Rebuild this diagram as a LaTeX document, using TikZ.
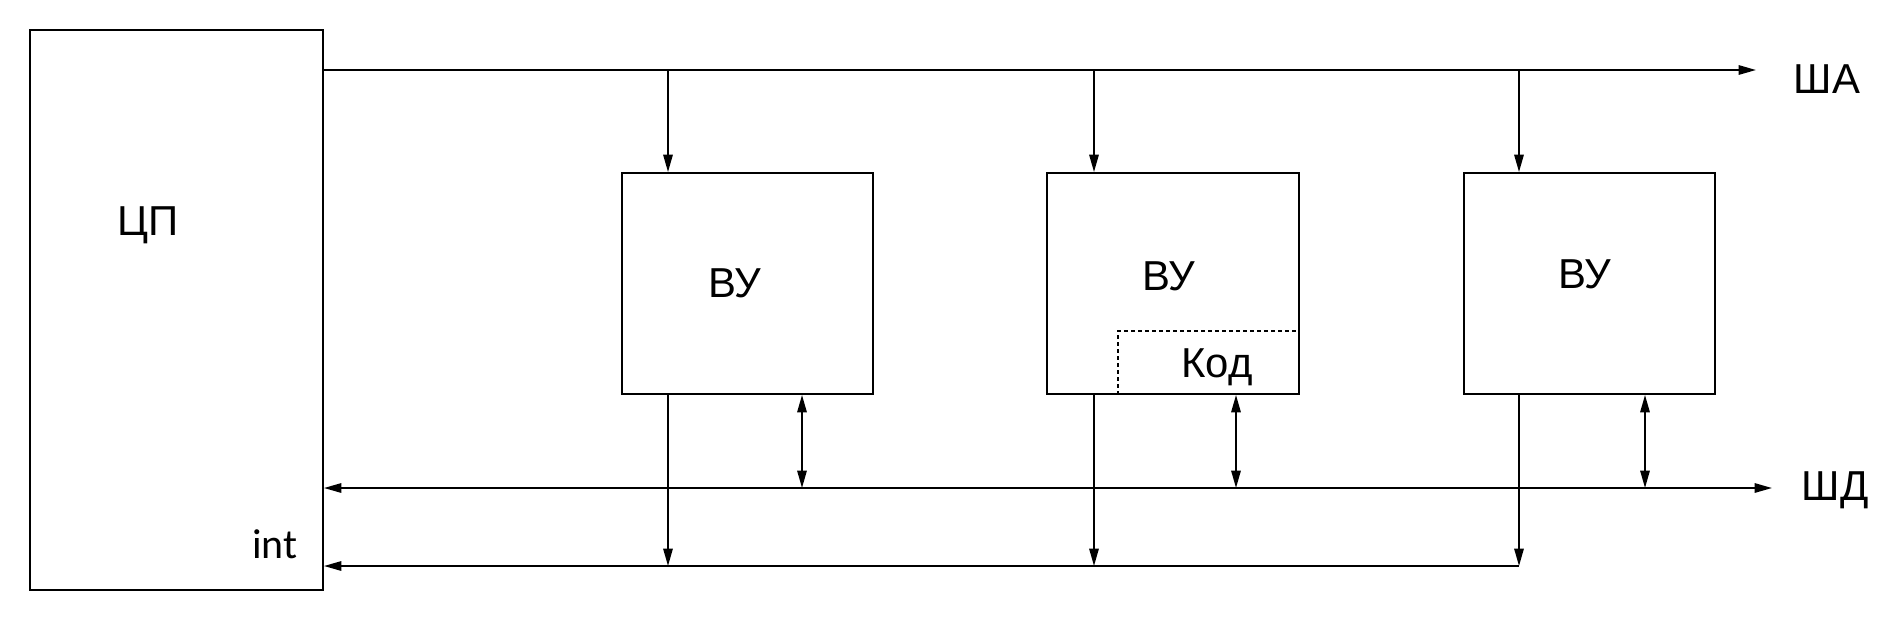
\documentclass[tikz,border=0pt]{standalone}
\usepackage{fontspec}
\setmainfont{Liberation Sans}
\newfontfamily\intfont{Carlito}
\usetikzlibrary{arrows.meta}
\begin{document}
\begin{tikzpicture}[x=0.75pt,y=-0.75pt,
  line width=1.4pt,
  box/.style={draw,rectangle,inner sep=0pt,line width=1.4pt},
  lbl/.style={inner sep=0pt,anchor=base,font=\fontsize{31.4}{36}\selectfont},
  arr/.style={-{Triangle[length=13pt,width=7pt]}},
  darr/.style={{Triangle[length=13pt,width=7pt]}-{Triangle[length=13pt,width=7pt]}},
  kodline/.style={line width=1.1pt,dash pattern=on 3pt off 2.25pt}]
\useasboundingbox (0,0) rectangle (1902,622);
% boxes
\node[box,minimum width=293*0.75pt,minimum height=560*0.75pt] (cpu) at (176.5,310) {};
\node[box,minimum width=251*0.75pt,minimum height=221*0.75pt] (vu1) at (747.5,283.5) {};
\node[box,minimum width=252*0.75pt,minimum height=221*0.75pt] (vu2) at (1173,283.5) {};
\node[box,minimum width=251*0.75pt,minimum height=221*0.75pt] (vu3) at (1589.5,283.5) {};
% labels
\node[lbl] (lcpu) at (148,235) {ЦП};
\node[lbl] (lvu1) at (735,297) {ВУ};
\node[lbl] (lvu2) at (1169,290) {ВУ};
\node[lbl] (lvu3) at (1585,288) {ВУ};
\node[lbl] (lkod) at (1217,377) {Код};
\node[lbl] (lsa) at (1827,93) {ША};
\node[lbl] (lsd) at (1835,500) {ШД};
\node[lbl,font=\fontsize{31.4}{36}\intfont] (lint) at (275,558) {int};
% bus coordinates
\coordinate (saR) at (1756,70);
\coordinate (sdR) at (1772,488);
\coordinate (intR) at (1519,566);
\coordinate (t1) at (668,70);
\coordinate (t2) at (1094,70);
\coordinate (t3) at (1519,70);
\coordinate (b1) at (802,488);
\coordinate (b2) at (1236,488);
\coordinate (b3) at (1645,488);
\coordinate (kodC) at (1118,331);
% address bus
\draw[arr] (saR -| cpu.east) -- (saR);
\foreach \t/\v in {t1/vu1,t2/vu2,t3/vu3}{
  \draw[arr] (\t) -- (\t |- \v.north);
  \draw[arr] (\t |- \v.south) -- (\t |- intR);
}
% data bus
\draw[darr] (sdR -| cpu.east) -- (sdR);
\foreach \b/\v in {b1/vu1,b2/vu2,b3/vu3}{
  \draw[darr] (\b |- \v.south) -- (\b);
}
% interrupt line
\draw[arr] (intR) -- (intR -| cpu.east);
% code region
\draw[kodline] (kodC |- vu2.south) -- (kodC) -- (kodC -| vu2.east);
\end{tikzpicture}
\end{document}
